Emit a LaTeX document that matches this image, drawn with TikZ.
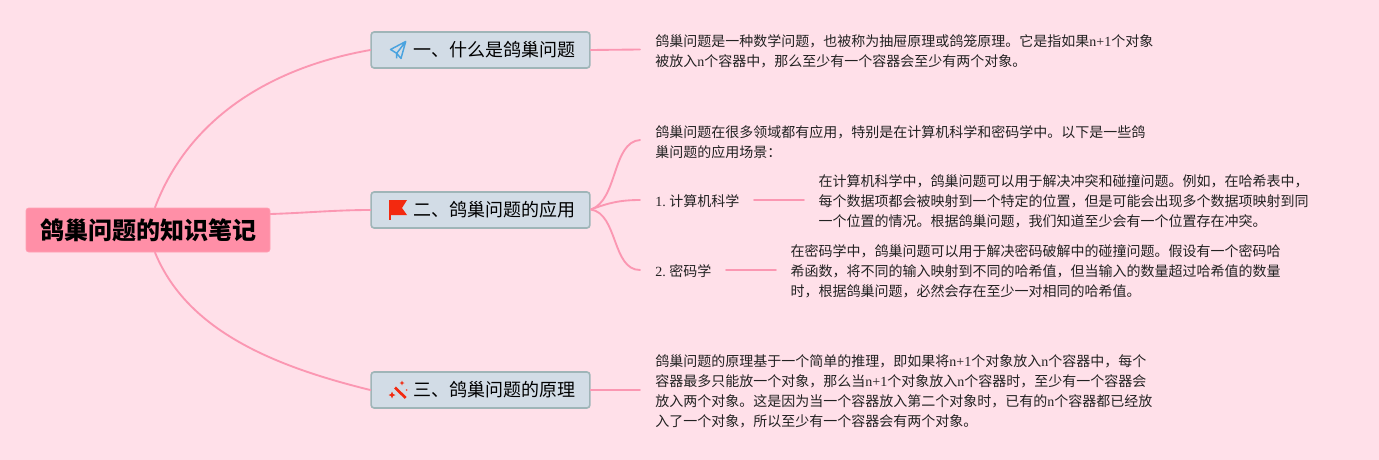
\documentclass[tikz,border=0pt]{standalone}
\usepackage{fontspec}
\setmainfont{Noto Sans CJK SC}
\newfontfamily\latfont{Liberation Serif}
\newcommand{\lat}[1]{{\latfont #1}}
\definecolor{bgpink}{HTML}{FFE0E9}
\definecolor{linkpink}{HTML}{FB97B2}
\definecolor{rootfill}{HTML}{FF8FA7}
\definecolor{boxfill}{HTML}{D2DCE6}
\definecolor{boxline}{HTML}{9FB5B8}
\definecolor{txt}{HTML}{222222}
\definecolor{iconred}{HTML}{F3290F}
\definecolor{iconblue}{HTML}{4AA3DF}
\tikzset{
  link/.style={draw=linkpink,line width=1.4pt,line cap=round},
  rootbox/.style={fill=rootfill,draw=rootfill!85!white,line width=.5pt,rounded corners=2pt,minimum width=183pt,minimum height=33pt,inner sep=0pt,font=\fontsize{18}{22}\selectfont\bfseries,text=black},
  branchbox/.style={fill=boxfill,draw=boxline,line width=1.2pt,rounded corners=2.2pt,minimum width=164pt,minimum height=27pt,inner sep=0pt,font=\fontsize{13.5}{16}\selectfont,text=black,text width=142pt,align=right},
  note/.style={anchor=west,inner sep=0pt,align=left,text=txt,font=\fontsize{10.5}{15}\selectfont},
}
\begin{document}
\begin{tikzpicture}[x=0.75pt,y=-0.75pt]
\useasboundingbox (0,0) rectangle (1379,460);
\fill[bgpink] (0,0) rectangle (1379,460);

% nodes
\node[rootbox] (root) at (148,230) {\hspace{1.2pt}鸽巢问题的知识笔记};
\node[branchbox] (b1) at (480.5,50) {一、什么是鸽巢问题};
\node[branchbox] (b2) at (480.5,210) {二、鸽巢问题的应用};
\node[branchbox] (b3) at (480.5,390) {三、鸽巢问题的原理};

\node[note] (t1) at (655.2,51) {鸽巢问题是一种数学问题，也被称为抽屉原理或鸽笼原理。它是指如果\lat{n+1}个对象\\被放入\lat{n}个容器中，那么至少有一个容器会至少有两个对象。};
\node[note] (t2) at (655.2,142) {鸽巢问题在很多领域都有应用，特别是在计算机科学和密码学中。以下是一些鸽\\巢问题的应用场景：};
\node[note] (s1) at (655.2,201) {\lat{1.}\hspace{2.6pt}计算机科学};
\node[note] (s2) at (655.2,271) {\lat{2.}\hspace{2.6pt}密码学};
\node[note] (t3) at (818.4,201) {在计算机科学中，鸽巢问题可以用于解决冲突和碰撞问题。例如，在哈希表中，\\每个数据项都会被映射到一个特定的位置，但是可能会出现多个数据项映射到同\\一个位置的情况。根据鸽巢问题，我们知道至少会有一个位置存在冲突。};
\node[note] (t4) at (790.4,271) {在密码学中，鸽巢问题可以用于解决密码破解中的碰撞问题。假设有一个密码哈\\希函数，将不同的输入映射到不同的哈希值，但当输入的数量超过哈希值的数量\\时，根据鸽巢问题，必然会存在至少一对相同的哈希值。};
\node[note] (t5) at (655.2,391) {鸽巢问题的原理基于一个简单的推理，即如果将\lat{n+1}个对象放入\lat{n}个容器中，每个\\容器最多只能放一个对象，那么当\lat{n+1}个对象放入\lat{n}个容器时，至少有一个容器会\\放入两个对象。这是因为当一个容器放入第二个对象时，已有的\lat{n}个容器都已经放\\入了一个对象，所以至少有一个容器会有两个对象。};

% connector anchors
\coordinate (rt) at (155,207.5);
\coordinate (rb) at (155,252.5);
\coordinate (rr) at (270.5,214);
\coordinate (e1) at (640,49.5);
\coordinate (e2a) at (640,140);
\coordinate (e2b) at (640,200);
\coordinate (e2c) at (640,270);
\coordinate (e3) at (640,390);
\coordinate (h2) at (591,209.5);
\coordinate (l1a) at (754,200);
\coordinate (l1b) at (804,200);
\coordinate (l2a) at (726,270);
\coordinate (l2b) at (776,270);

% connectors
\draw[link] (rt) .. controls (188,120) and (268,68) .. (b1.west);
\draw[link] (rr) .. controls (305,213) and (335,210) .. (b2.west);
\draw[link] (rb) .. controls (186,328) and (268,365) .. (b3.west);
\draw[link] (b1.east) -- (e1);
\draw[link] (b3.east) -- (e3);
\draw[link] (h2) .. controls (618,200) and (612,142) .. (e2a);
\draw[link] (h2) .. controls (608,203) and (620,200) .. (e2b);
\draw[link] (h2) .. controls (618,214) and (612,270) .. (e2c);
\draw[link] (l1a) -- (l1b);
\draw[link] (l2a) -- (l2b);

% icons
\draw[iconblue,line width=1.1pt,line join=round]
  (405.7,41.5) -- (390.5,49.5) -- (396.7,53.3) -- (405.7,41.5) -- (401,58.5) -- (396.7,53.3) -- (396.7,58.5);
\fill[iconred] (389,200) rectangle (390.5,220);
\fill[iconred] (389,200) -- (407,200) -- (402,208) -- (407,215) -- (389,215) -- cycle;
\draw[iconred,line width=2pt] (395,387.5) -- (405.7,398);
\fill[iconred] (402,380.5) -- (402.7,382.3) -- (404.5,383) -- (402.7,383.7) -- (402,385.5) -- (401.3,383.7) -- (399.5,383) -- (401.3,382.3) -- cycle;
\fill[iconred] (392,391.5) -- (393,394) -- (395.5,395) -- (393,396) -- (392,398.5) -- (391,396) -- (388.5,395) -- (391,394) -- cycle;
\fill[iconred!80] (406.5,390) circle (1);
\end{tikzpicture}
\end{document}
